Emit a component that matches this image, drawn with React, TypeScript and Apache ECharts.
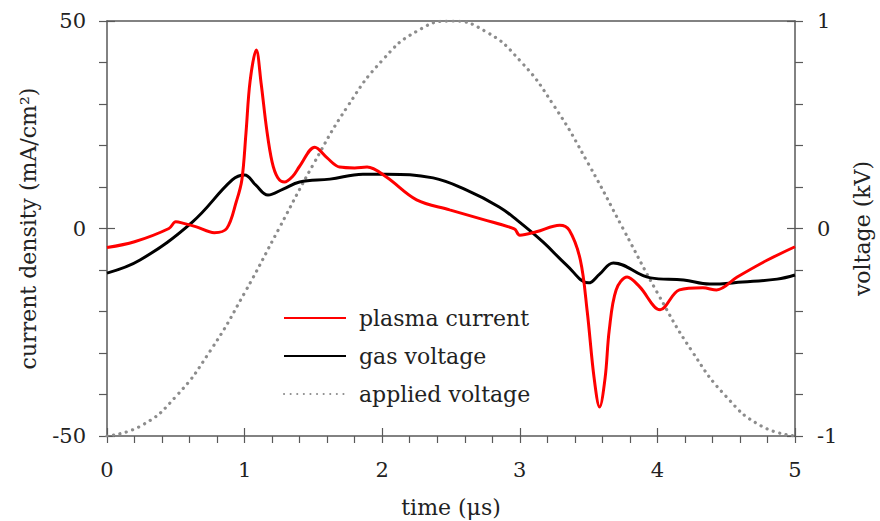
import React, { useEffect, useRef } from "react";
import * as echarts from "echarts";

const plasmaCurrent: [number, number][] = [
  [0, -4.6], [0.2, -3.2], [0.45, 0], [0.5, 1.6], [0.55, 1.3], [0.65, 0.4], [0.78, -1], [0.87, 0],
  [0.94, 6.5], [0.98, 11.7], [1.01, 23], [1.04, 35.5], [1.085, 43], [1.12, 35], [1.16, 24],
  [1.2, 16], [1.24, 12.3], [1.29, 11.2], [1.35, 12.6], [1.4, 15], [1.51, 19.6], [1.6, 17], [1.69, 14.8], [1.8, 14.6],
  [1.89, 14.8], [2.03, 12.4], [2.25, 6.9], [2.49, 4.5], [2.73, 2.2], [2.96, -0.1], [3.0, -1.6],
  [3.12, -0.8], [3.29, 0.8], [3.36, -0.4], [3.44, -7.6], [3.49, -20], [3.54, -36], [3.58, -43],
  [3.62, -36], [3.65, -24.5], [3.7, -14.8], [3.78, -11.7], [3.87, -14], [4.02, -19.6], [4.16, -14.8],
  [4.33, -14.3], [4.43, -14.8], [4.58, -11.7], [4.8, -7.6], [5, -4.4],
];

const gasVoltage: [number, number][] = [
  [0, -0.215], [0.24, -0.152], [0.62, 0.031], [0.91, 0.234], [1.0, 0.258], [1.08, 0.21],
  [1.17, 0.161], [1.28, 0.19], [1.4, 0.224], [1.62, 0.238], [1.86, 0.262], [2.03, 0.262],
  [2.37, 0.244], [2.61, 0.186], [2.85, 0.104], [2.98, 0.04], [3.17, -0.066], [3.34, -0.176],
  [3.5, -0.262], [3.58, -0.22], [3.68, -0.166], [3.95, -0.238], [4.19, -0.248], [4.38, -0.268],
  [4.62, -0.258], [4.87, -0.244], [5, -0.224],
];

const appliedVoltage: [number, number][] = [
  [0, -1], [0.25, -0.95], [0.5, -0.81], [0.75, -0.59], [1, -0.31], [1.25, 0], [1.5, 0.31],
  [1.75, 0.59], [2, 0.81], [2.25, 0.95], [2.5, 1], [2.75, 0.95], [3, 0.81], [3.25, 0.59],
  [3.5, 0.31], [3.75, 0], [4, -0.31], [4.25, -0.59], [4.5, -0.81], [4.75, -0.95], [5, -1],
];

const FONT = "DejaVu Serif";
const AXIS = "#595959";

export default function App() {
  const ref = useRef<HTMLDivElement>(null);
  useEffect(() => {
    if (!ref.current) return;
    const chart = echarts.init(ref.current, null, { renderer: "svg" });
    const lbl = { fontFamily: FONT, fontSize: 21, color: "#222" };
    const nameStyle = { fontFamily: FONT, fontSize: 22, color: "#222" };
    const intLabel = (v: number) => (Math.abs(v - Math.round(v)) < 1e-6 ? String(Math.round(v)) : "");
    chart.setOption({
      animation: false,
      textStyle: { fontFamily: FONT },
      grid: { left: 107, right: 85, top: 21, bottom: 85, outerBoundsMode: "none", containLabel: false },
      legend: {
        orient: "vertical",
        left: 283,
        top: 306,
        padding: 0,
        itemWidth: 62,
        itemHeight: 4,
        itemGap: 14,
        itemStyle: { opacity: 0 },
        textStyle: { fontFamily: FONT, fontSize: 22, color: "#222", padding: [0, 0, 0, 8], lineHeight: 24 },
        data: ["plasma current", "gas voltage", "applied voltage"],
      },
      xAxis: [
        {
          type: "value", min: 0, max: 5, interval: 0.2, position: "bottom",
          name: "time (μs)", nameLocation: "middle", nameGap: 60, nameTextStyle: nameStyle,
          axisLine: { lineStyle: { color: AXIS, width: 1.5 }, onZero: false },
          axisTick: { inside: false, length: 7, lineStyle: { color: AXIS, width: 1.2 } },
          axisLabel: { ...lbl, margin: 23, formatter: intLabel },
          splitLine: { show: false },
        },
        {
          type: "value", min: 0, max: 5, interval: 1, position: "bottom",
          axisLine: { show: false, onZero: false },
          axisTick: { inside: true, length: 8, lineStyle: { color: AXIS, width: 1.2 } },
          axisLabel: { show: false }, splitLine: { show: false },
        },
        {
          type: "value", min: 0, max: 5, position: "top",
          axisLine: { lineStyle: { color: AXIS, width: 1.5 }, onZero: false },
          axisTick: { show: false }, axisLabel: { show: false }, splitLine: { show: false },
        },
      ],
      yAxis: [
        {
          type: "value", min: -50, max: 50, interval: 10, position: "left",
          name: "current density (mA/cm²)", nameLocation: "middle", nameGap: 68, nameRotate: 90, nameTextStyle: nameStyle,
          axisLine: { show: true, lineStyle: { color: AXIS, width: 1.5 }, onZero: false },
          axisTick: { show: true, inside: false, length: 8, lineStyle: { color: AXIS, width: 1.2 } },
          axisLabel: { ...lbl, margin: 21, formatter: (v: number) => (v % 50 === 0 ? String(v) : "") },
          splitLine: { show: false },
        },
        {
          type: "value", min: -1, max: 1, interval: 0.2, position: "right",
          name: "voltage (kV)", nameLocation: "middle", nameGap: 56, nameRotate: 90, nameTextStyle: nameStyle,
          axisLine: { show: true, lineStyle: { color: AXIS, width: 1.5 }, onZero: false },
          axisTick: { show: true, inside: false, length: 8, lineStyle: { color: AXIS, width: 1.2 } },
          axisLabel: { ...lbl, margin: 22, formatter: intLabel },
          splitLine: { show: false },
        },
        {
          type: "value", min: -50, max: 50, interval: 50, position: "left",
          axisLine: { show: false, onZero: false },
          axisTick: { show: true, inside: true, length: 8, lineStyle: { color: AXIS, width: 1.2 } },
          axisLabel: { show: false }, splitLine: { show: false },
        },
        {
          type: "value", min: -1, max: 1, interval: 1, position: "right",
          axisLine: { show: false, onZero: false },
          axisTick: { show: true, inside: true, length: 8, lineStyle: { color: AXIS, width: 1.2 } },
          axisLabel: { show: false }, splitLine: { show: false },
        },
      ],
      series: [
        {
          name: "plasma current", type: "line", xAxisIndex: 0, yAxisIndex: 0,
          data: plasmaCurrent, smooth: 0.35, symbol: "none",
          lineStyle: { color: "#ff0000", width: 3 }, itemStyle: { color: "#ff0000" }, z: 3,
        },
        {
          name: "gas voltage", type: "line", xAxisIndex: 0, yAxisIndex: 1,
          data: gasVoltage, smooth: 0.4, symbol: "none",
          lineStyle: { color: "#000000", width: 3 }, itemStyle: { color: "#000000" }, z: 2,
        },
        {
          name: "applied voltage", type: "line", xAxisIndex: 0, yAxisIndex: 1,
          data: appliedVoltage, smooth: 0.5, symbol: "none",
          lineStyle: { color: "#8c8c8c", width: 3.2, type: [0.1, 6.5], cap: "round" }, itemStyle: { color: "#8c8c8c" }, z: 1,
        },
      ],
    });
    return () => chart.dispose();
  }, []);
  return <div ref={ref} style={{ width: 880, height: 521, position: "absolute", left: 0, top: 0 }} />;
}
